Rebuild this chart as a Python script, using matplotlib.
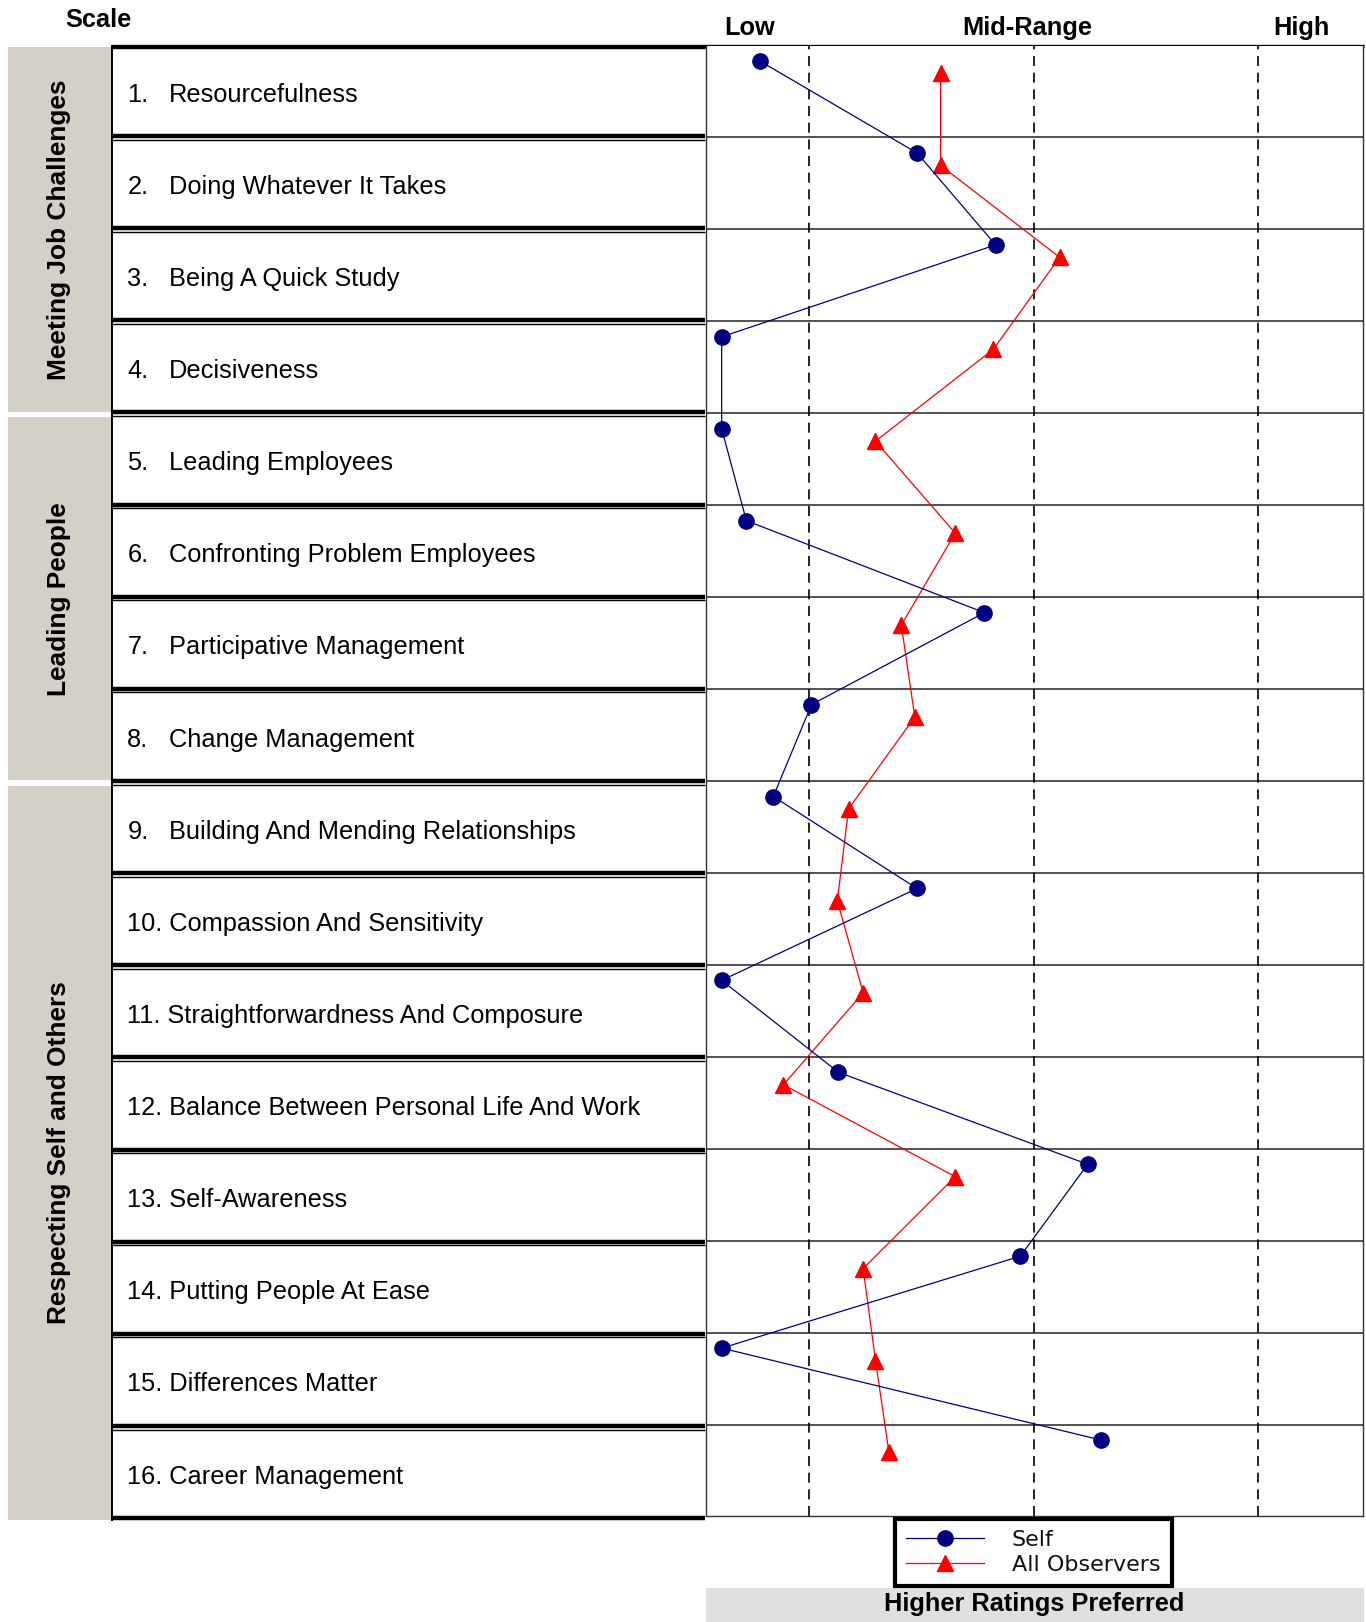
import matplotlib.pyplot as plt
from matplotlib.patches import Rectangle

# Data
groups = ["Meeting Job Challenges", "Leading People", "Respecting Self and Others"]
group_sizes = [4, 4, 8]
scales = [
    "Resourcefulness", "Doing Whatever It Takes", "Being A Quick Study", "Decisiveness",
    "Leading Employees", "Confronting Problem Employees", "Participative Management",
    "Change Management", "Building And Mending Relationships", "Compassion And Sensitivity",
    "Straightforwardness And Composure", "Balance Between Personal Life And Work",
    "Self-Awareness", "Putting People At Ease", "Differences Matter", "Career Management",
]
self_scores = [1.78, 2.48, 2.83, 1.61, 1.61, 1.72, 2.78, 2.01,
               1.84, 2.48, 1.61, 2.13, 3.24, 2.94, 1.61, 3.30]
observer_scores = [2.585, 2.585, 3.115, 2.82, 2.295, 2.65, 2.41, 2.47,
                   2.175, 2.125, 2.24, 1.885, 2.65, 2.24, 2.295, 2.355]
range_labels = ["Low", "Mid-Range", "High"]
range_ticks = [2, 3, 4]

# Layout (reference units)
W, H = 1320, 1568
FONT = "Liberation Sans"
FS = 18.3

fig = plt.figure(figsize=(13.66, 16.22), dpi=100)
bg = fig.add_axes([0, 0, 1, 1])
bg.set_xlim(0, W)
bg.set_ylim(H, 0)
bg.axis("off")

# header texts
bg.text(95, 19, "Scale", ha="center", va="center", fontsize=FS, fontweight="bold", family=FONT)
for lab, xc in zip(range_labels, [724, 993, 1258]):
    bg.text(xc, 27, lab, ha="center", va="center", fontsize=FS, fontweight="bold", family=FONT)

# group panels on the left
top, bottom = 44, 1469
row_h = (bottom - top) / len(scales)
start = 0
for g, n in zip(groups, group_sizes):
    y0 = top + start * row_h + (1 if start == 0 else 3)
    y1 = top + (start + n) * row_h - (2 if start + n < len(scales) else 0)
    bg.add_patch(Rectangle((8, y0), 99, y1 - y0, facecolor="#d4d0c8", edgecolor="none"))
    bg.text(57, (y0 + y1) / 2, g, rotation=90, ha="center", va="center",
            fontsize=18.9, fontweight="bold", family=FONT)
    start += n

# label cells
for i, name in enumerate(scales):
    yc = top + (i + 0.5) * row_h + 3
    if i < 9:
        bg.text(123, yc, f"{i + 1}.", ha="left", va="center", fontsize=FS, family=FONT)
        bg.text(163, yc, name, ha="left", va="center", fontsize=FS, family=FONT)
    else:
        bg.text(123, yc, f"{i + 1}. {name}", ha="left", va="center", fontsize=FS, family=FONT)
    bg.plot([108, 681], [top + (i + 1) * row_h - 1.5] * 2, color="black", lw=3.2,
            solid_capstyle="butt")
    bg.plot([108, 681], [top + i * row_h + 2] * 2, color="black", lw=1.0,
            solid_capstyle="butt")
bg.plot([108, 108], [top, bottom], color="black", lw=1.4)
bg.plot([108, 1318], [top, top], color="black", lw=2.4, solid_capstyle="butt")

# bottom band
bg.add_patch(Rectangle((682, 1535), 636, 33, facecolor="#e0e0e0", edgecolor="none"))
bg.text(999, 1551, "Higher Ratings Preferred", ha="center", va="center",
        fontsize=FS, fontweight="bold", family=FONT)

# plot panel
px0, px1, py0, py1 = 682, 1317, 44, 1466
ax = fig.add_axes([px0 / W, 1 - py1 / H, (px1 - px0) / W, (py1 - py0) / H])
ax.set_xlim(2 - 100 / 217, 4 + 101 / 217)
ax.set_ylim(len(scales), 0)
ax.set_xticks([])
ax.set_yticks([])
for s in ax.spines.values():
    s.set_color("#333333")
    s.set_linewidth(1.0)
ax.spines["top"].set_visible(False)
for k in range(1, len(scales)):
    ax.axhline(k, color="#222222", lw=1.1)
for t in range_ticks:
    ax.axvline(t, color="black", lw=1.2, linestyle=(0, (6, 4)))

rows = range(1, len(scales) + 1)
self_y = [r - 1 + 15 / 88.9 for r in rows]
obs_y = [r - 1 + 27 / 88.9 for r in rows]
ax.plot(self_scores, self_y, color="#000080", lw=0.9, marker="o", markersize=11,
        markerfacecolor="#000080", markeredgecolor="#000080", label="Self", zorder=4)
ax.plot(observer_scores, obs_y, color="#ff0000", lw=0.9, marker="^", markersize=11.5,
        markerfacecolor="#ff0000", markeredgecolor="#ff0000", label="All Observers", zorder=3)

leg = fig.legend(loc="upper left", bbox_to_anchor=(865 / W, 1 - 1468 / H),
                 fancybox=False, framealpha=1, edgecolor="black", fontsize=16,
                 handlelength=3.5, handletextpad=1.25, labelspacing=0.22,
                 borderpad=0.5, borderaxespad=0)
leg.get_frame().set_linewidth(3)
for txt in leg.get_texts():
    txt.set_family("DejaVu Sans")
    txt.set_color("#111111")

fig.savefig("out.png", dpi=100)
